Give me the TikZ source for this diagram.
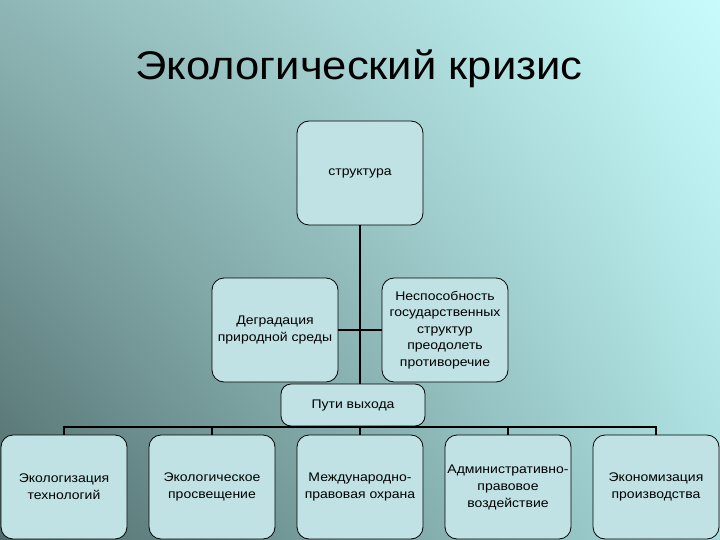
\documentclass[tikz,border=0pt]{standalone}
\usepackage{fontspec}
\setmainfont{Liberation Sans}
\newfontfamily\titlefont[FakeStretch=1.09]{Liberation Sans}
\newfontfamily\boxfont[FakeStretch=1.12]{Liberation Sans}
\usetikzlibrary{shadings}
\definecolor{boxfill}{HTML}{C0E2E5}
\definecolor{bgTL}{HTML}{8FB6B6}
\definecolor{bgTR}{HTML}{C8FCFC}
\definecolor{bgBL}{HTML}{4F6A6A}
\definecolor{bgBR}{HTML}{A8DCDC}
\tikzset{
  orgbox/.style={draw=black, line width=0.8pt, fill=boxfill, rounded corners=12pt,
    minimum width=126pt, minimum height=104pt, align=center, inner sep=1pt,
    font=\boxfont\fontsize{12.5}{17}\selectfont},
  wayout/.style={draw=black, line width=0.8pt, fill=boxfill, rounded corners=10pt,
    minimum width=144pt, minimum height=42pt, align=center,
    font=\boxfont\fontsize{12.5}{17}\selectfont},
  conn/.style={draw=black, line width=1.8pt}
}
\begin{document}
\begin{tikzpicture}[x=1pt, y=-1pt]
\useasboundingbox (0,0) rectangle (720,540);
\shade[upper left=bgTL, upper right=bgTR, lower left=bgBL, lower right=bgBR] (0,0) rectangle (720,540);
\node[font=\titlefont\fontsize{40}{48}\selectfont, anchor=base, inner sep=0pt] (title) at (359,80) {Экологический кризис};
\node[orgbox] (struct) at (360,173) {структура};
\node[orgbox] (degr) at (275,330) {Деградация\\природной среды};
\node[orgbox, font=\boxfont\fontsize{12.5}{16.5}\selectfont] (nesp) at (445,330) {Неспособность\\государственных\\структур\\преодолеть\\противоречие};
\coordinate (hbar) at (360,427);
\draw[conn] (struct.south) -- (360,384);
\draw[conn] (degr.east) -- (nesp.west);
\node[wayout] (puti) at (353,405) {Пути выхода};
\node[orgbox] (b1) at (64,487) {Экологизация\\технологий};
\node[orgbox] (b2) at (212,487) {Экологическое\\просвещение};
\node[orgbox] (b3) at (360,487) {Международно-\\правовая охрана};
\node[orgbox] (b4) at (508,487) {Административно-\\правовое\\воздействие};
\node[orgbox] (b5) at (656,487) {Экономизация\\производства};
\draw[conn] (b1.north) -- (b1.north |- hbar) -- (b5.north |- hbar) -- (b5.north);
\draw[conn] (b2.north) -- (b2.north |- hbar);
\draw[conn] (b3.north) -- (b3.north |- hbar);
\draw[conn] (b4.north) -- (b4.north |- hbar);
\end{tikzpicture}
\end{document}
